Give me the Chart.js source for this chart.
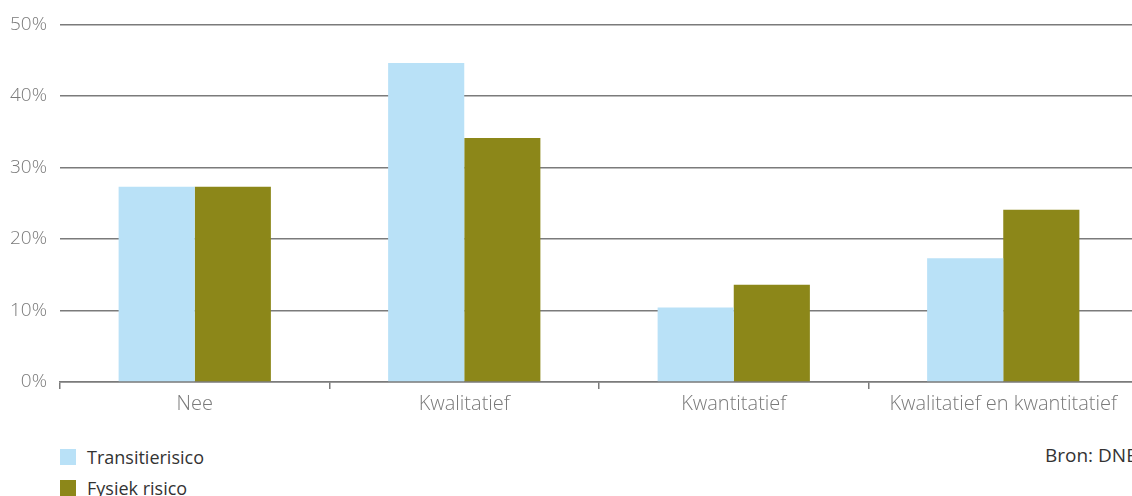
<!DOCTYPE html>
<html lang="nl">
<head>
<meta charset="utf-8">
<title>Transitierisico en fysiek risico</title>
<script src="https://cdn.jsdelivr.net/npm/chart.js@4"></script>
<style>
  html, body { margin: 0; padding: 0; background: #fff; overflow: hidden; }
  body { width: 1132px; height: 496px; position: relative; font-family: "Open Sans", sans-serif; }
  #wrap { position: absolute; left: 0; top: 0; width: 1150px; height: 425px; }
  #legend { position: absolute; left: 60px; top: 441px; }
  .item { display: flex; align-items: center; height: 31px; font-size: 18px; color: #333; }
  .swatch { width: 16px; height: 16px; margin-right: 11px; }
  #bron { position: absolute; left: 1045px; top: 442px; font-size: 19px; color: #333; white-space: nowrap; }
</style>
</head>
<body>
<div id="wrap"><canvas id="chart"></canvas></div>
<div id="legend"></div>
<div id="bron">Bron: DNB</div>
<script>
const categories = ['Nee', 'Kwalitatief', 'Kwantitatief', 'Kwalitatief en kwantitatief'];
const transitierisico = [27.3, 44.6, 10.4, 17.3];
const fysiekRisico = [27.3, 34.1, 13.6, 24.1];
const seriesNames = ['Transitierisico', 'Fysiek risico'];
const seriesColors = ['#b9e1f7', '#8c8719'];

const gridGray = '#7b7b7b';
const labelGray = '#7a7a7a';

const chart = new Chart(document.getElementById('chart'), {
  type: 'bar',
  data: {
    labels: categories,
    datasets: [
      { label: seriesNames[0], data: transitierisico, backgroundColor: seriesColors[0] },
      { label: seriesNames[1], data: fysiekRisico, backgroundColor: seriesColors[1] }
    ]
  },
  options: {
    responsive: true,
    maintainAspectRatio: false,
    animation: false,
    layout: { padding: { top: 23, right: 12, left: 0, bottom: 0 } },
    datasets: { bar: { barPercentage: 1, categoryPercentage: 0.565 } },
    plugins: { legend: { display: false }, tooltip: { enabled: false } },
    scales: {
      x: {
        grid: { drawOnChartArea: false, tickLength: 7, color: gridGray, lineWidth: 1.5 },
        border: { color: gridGray, width: 1.5 },
        ticks: { color: labelGray, padding: 3, font: { family: 'Open Sans', size: 20, weight: 300 } },
        afterFit: s => { s.height = 43; }
      },
      y: {
        min: 0,
        max: 50,
        ticks: {
          stepSize: 10,
          color: labelGray,
          padding: 13,
          font: { family: 'Open Sans', size: 19, weight: 300 },
          callback: v => v + '%'
        },
        grid: { color: gridGray, lineWidth: 1.5, drawTicks: false },
        border: { display: false },
        afterFit: s => { s.width = 60; }
      }
    }
  }
});

// legend below the chart, one series per line
const legend = document.getElementById('legend');
chart.data.datasets.forEach(ds => {
  const row = document.createElement('div');
  row.className = 'item';
  const sw = document.createElement('span');
  sw.className = 'swatch';
  sw.style.background = ds.backgroundColor;
  row.appendChild(sw);
  row.appendChild(document.createTextNode(ds.label));
  legend.appendChild(row);
});
</script>
</body>
</html>
